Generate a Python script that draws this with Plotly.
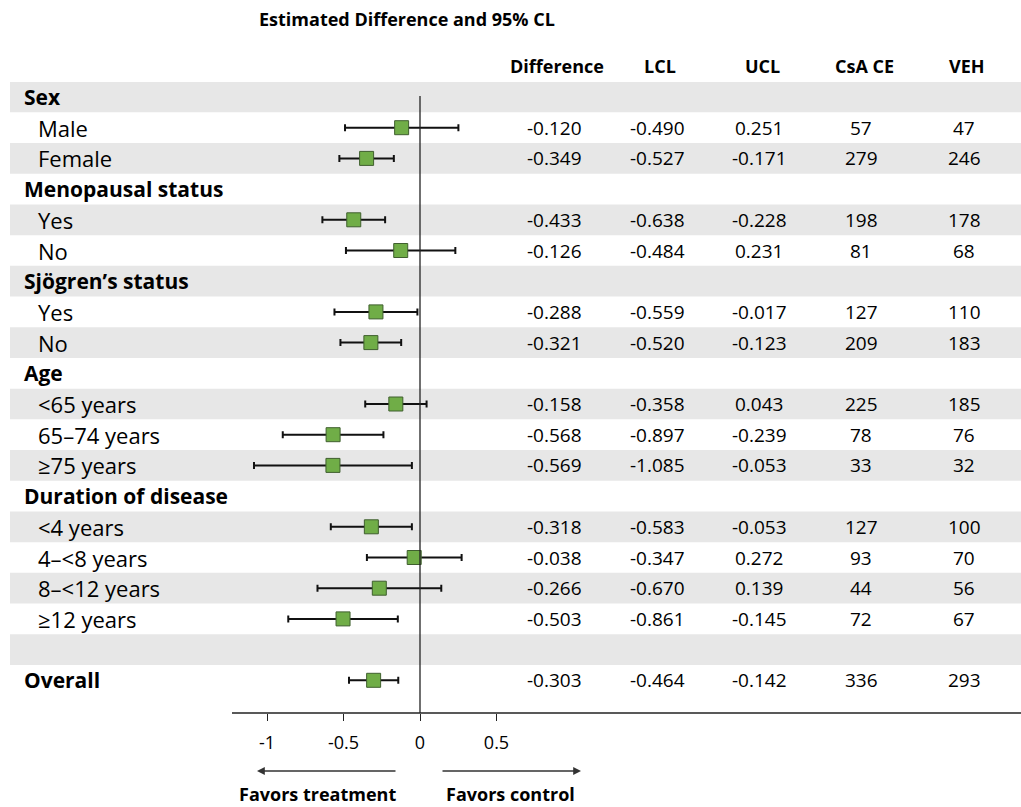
import plotly.graph_objects as go

# ---------------- data ----------------
row_labels = ["Sex", "Male", "Female", "Menopausal status", "Yes", "No",
              "Sjögren’s status", "Yes", "No", "Age", "<65 years", "65–74 years",
              "≥75 years", "Duration of disease", "<4 years", "4–<8 years",
              "8–<12 years", "≥12 years", "", "Overall"]
is_header = [True, False, False, True, False, False, True, False, False, True,
             False, False, False, True, False, False, False, False, False, True]
has_data = [False, True, True, False, True, True, False, True, True, False,
            True, True, True, False, True, True, True, True, False, True]

difference = [-0.120, -0.349, -0.433, -0.126, -0.288, -0.321, -0.158, -0.568,
              -0.569, -0.318, -0.038, -0.266, -0.503, -0.303]
lcl = [-0.490, -0.527, -0.638, -0.484, -0.559, -0.520, -0.358, -0.897,
       -1.085, -0.583, -0.347, -0.670, -0.861, -0.464]
ucl = [0.251, -0.171, -0.228, 0.231, -0.017, -0.123, 0.043, -0.239,
       -0.053, -0.053, 0.272, 0.139, -0.145, -0.142]
n_csa = [57, 279, 198, 81, 127, 209, 225, 78, 33, 127, 93, 44, 72, 336]
n_veh = [47, 246, 178, 68, 110, 183, 185, 76, 32, 100, 70, 56, 67, 293]

col_headers = ["Difference", "LCL", "UCL", "CsA CE", "VEH"]
tick_vals = [-1, -0.5, 0, 0.5]
tick_text = ["-1", "-0.5", "0", "0.5"]
title_text = "Estimated Difference and 95% CL"
favor_left = "Favors treatment"
favor_right = "Favors control"

# ---------------- geometry ----------------
W, H = 1021, 807
L_PX, R_PX = 10, 1021
TOP_PX, BOT_PX = 82, 713
X0_PX, PX_PER_UNIT = 420, 153.0
ROW0_PX, ROW_PITCH = 97.0, 30.7


def xd(px):
    return (px - X0_PX) / PX_PER_UNIT


def yd(py):
    return (py - ROW0_PX) / ROW_PITCH


def yp(py):
    # pixel -> paper fraction (0 at plot bottom, 1 at plot top)
    return (BOT_PX - py) / (BOT_PX - TOP_PX)


FONT = "Open Sans"
n_rows = len(row_labels)
data_rows = [i for i in range(n_rows) if has_data[i]]

fig = go.Figure()

# alternating bands
shapes = []
for i in range(n_rows):
    if i % 2 == 0:
        shapes.append(dict(type="rect", xref="paper", yref="y", x0=0, x1=1,
                           y0=i - 0.5, y1=i + 0.5, fillcolor="#E7E7E7",
                           line=dict(width=0), layer="below"))
# zero line
shapes.append(dict(type="line", xref="x", yref="y", x0=0, x1=0,
                   y0=yd(96), y1=yd(BOT_PX), line=dict(color="#222222", width=1.3)))
# axis line
shapes.append(dict(type="line", xref="x", yref="paper", x0=xd(232), x1=xd(R_PX),
                   y0=0, y1=0, line=dict(color="#222222", width=1.3)))

# forest markers
fig.add_trace(go.Scatter(
    x=difference, y=data_rows, mode="markers",
    marker=dict(symbol="square", size=14, color="#70AD47",
                line=dict(color="#3F5F2E", width=1)),
    error_x=dict(type="data", symmetric=False,
                 array=[u - d for u, d in zip(ucl, difference)],
                 arrayminus=[d - l for d, l in zip(difference, lcl)],
                 color="#111111", thickness=2, width=3.5),
    showlegend=False, hoverinfo="skip"))

annotations = []
# row labels
for i, lab in enumerate(row_labels):
    if not lab:
        continue
    if is_header[i]:
        annotations.append(dict(x=xd(22), y=i, xref="x", yref="y", text="<b>%s</b>" % lab,
                                showarrow=False, xanchor="left", yanchor="middle",
                                font=dict(family=FONT, size=21, color="#000")))
    else:
        annotations.append(dict(x=xd(36), y=i, xref="x", yref="y", text=lab,
                                showarrow=False, xanchor="left", yanchor="middle",
                                font=dict(family=FONT, size=22, color="#000")))

# table columns
col_px = [554, 657, 759, 861, 964]
col_vals = [["%.3f" % v for v in difference], ["%.3f" % v for v in lcl],
            ["%.3f" % v for v in ucl], [str(v) for v in n_csa], [str(v) for v in n_veh]]
for c, (cx, hdr, vals) in enumerate(zip(col_px, col_headers, col_vals)):
    annotations.append(dict(x=xd(cx + 3), y=yp(66), xref="x", yref="paper", text="<b>%s</b>" % hdr,
                            showarrow=False, xanchor="center", yanchor="middle",
                            font=dict(family=FONT, size=18, color="#000")))
    for r, v in zip(data_rows, vals):
        annotations.append(dict(x=xd(cx), y=r, xref="x", yref="y", text=v,
                                showarrow=False, xanchor="center", yanchor="middle",
                                font=dict(family=FONT, size=19, color="#000")))

# title
annotations.append(dict(x=xd(407), y=yp(19), xref="x", yref="paper", text="<b>%s</b>" % title_text,
                        showarrow=False, xanchor="center", yanchor="middle",
                        font=dict(family=FONT, size=18, color="#000")))

# favors arrows
annotations.append(dict(x=xd(257), y=yp(771), ax=140, ay=0, xref="x", yref="paper",
                        axref="pixel", ayref="pixel", text="", showarrow=True, arrowhead=2,
                        arrowsize=1.2, arrowwidth=1.3, arrowcolor="#333333"))
annotations.append(dict(x=xd(581), y=yp(771), ax=-140, ay=0, xref="x", yref="paper",
                        axref="pixel", ayref="pixel", text="", showarrow=True, arrowhead=2,
                        arrowsize=1.2, arrowwidth=1.3, arrowcolor="#333333"))
annotations.append(dict(x=xd(317), y=yp(794), xref="x", yref="paper", text="<b>%s</b>" % favor_left,
                        showarrow=False, xanchor="center", yanchor="middle",
                        font=dict(family=FONT, size=18, color="#000")))
annotations.append(dict(x=xd(510), y=yp(794), xref="x", yref="paper", text="<b>%s</b>" % favor_right,
                        showarrow=False, xanchor="center", yanchor="middle",
                        font=dict(family=FONT, size=18, color="#000")))

fig.update_layout(
    width=W, height=H,
    margin=dict(l=L_PX, r=W - R_PX, t=TOP_PX, b=H - BOT_PX, pad=0),
    paper_bgcolor="white", plot_bgcolor="white",
    shapes=shapes, annotations=annotations,
    xaxis=dict(range=[xd(L_PX), xd(R_PX)], showgrid=False, zeroline=False, showline=False,
               tickmode="array", tickvals=tick_vals, ticktext=tick_text,
               ticks="outside", ticklen=7, tickwidth=1.3, tickcolor="#222222",
               tickfont=dict(family=FONT, size=18, color="#000"), ticklabelstandoff=6,
               fixedrange=True),
    yaxis=dict(range=[yd(BOT_PX), yd(TOP_PX)], showgrid=False, zeroline=False,
               showline=False, showticklabels=False, ticks="", fixedrange=True),
    showlegend=False,
)

fig.write_html("out.html", config={"displayModeBar": False},
               post_script="document.body.style.margin='0';document.body.style.overflow='hidden';")
